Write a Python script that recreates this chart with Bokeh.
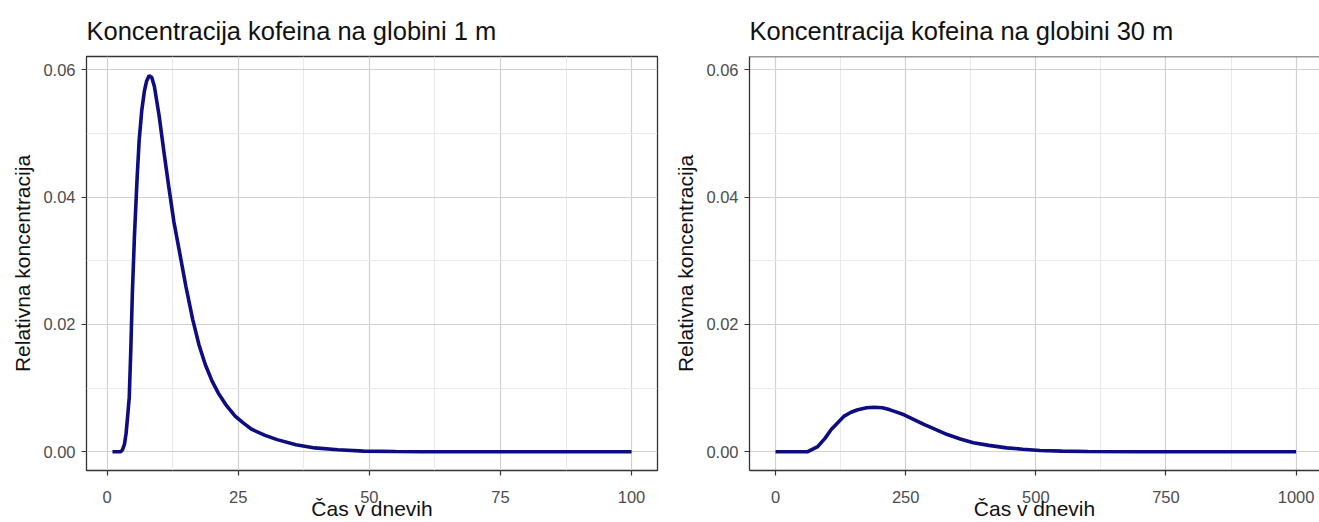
from bokeh.plotting import figure
from bokeh.models import Range1d, FixedTicker, Span, NumeralTickFormatter
from bokeh.layouts import row
from bokeh.embed import file_html
from bokeh.resources import INLINE

# ---- data ----
t_1m = [1, 2, 2.6, 2.9, 3.3, 3.6, 3.9, 4.2, 4.5, 4.8, 5.2, 5.7, 6.1, 6.6, 7.1, 7.5,
        8.0, 8.5, 9.0, 9.9, 10.8, 11.8, 12.7, 13.7, 15.0, 16.3, 17.5, 18.7, 20, 21.2,
        22.8, 24.4, 26, 27.6, 30, 32.4, 36, 39.6, 44, 48.9, 55, 60, 70, 80, 90, 100]
c_1m = [0, 0, 0, 0.0003, 0.0012, 0.0029, 0.0056, 0.0085, 0.0160, 0.0250, 0.0340,
        0.0430, 0.0490, 0.0537, 0.0567, 0.0582, 0.0591, 0.0588, 0.0574, 0.0528,
        0.0472, 0.0413, 0.0362, 0.0318, 0.0260, 0.0208, 0.0168, 0.0137, 0.0111,
        0.0092, 0.0072, 0.0056, 0.0045, 0.0035, 0.0026, 0.0019, 0.0011, 0.0006,
        0.0003, 0.0001, 0.00003, 0, 0, 0, 0, 0]

t_30m = [0, 30, 62, 81, 95, 107, 120, 132, 145, 158, 175, 190, 205, 215, 230, 247,
         265, 285, 307, 330, 355, 380, 410, 444, 475, 508, 550, 600, 700, 800, 900, 1000]
c_30m = [0, 0, 0, 0.0008, 0.0021, 0.0035, 0.0046, 0.0056, 0.0062, 0.0066, 0.0069,
         0.0070, 0.0069, 0.0067, 0.0063, 0.0058, 0.0051, 0.0043, 0.0035, 0.0027,
         0.0020, 0.0014, 0.0010, 0.0006, 0.0004, 0.0002, 0.0001, 0.00003, 0, 0, 0, 0]

x_ticks_1m = [0, 25, 50, 75, 100]
x_minor_1m = [12.5, 37.5, 62.5, 87.5]
x_ticks_30m = [0, 250, 500, 750, 1000]
x_minor_30m = [125, 375, 625, 875]
y_ticks = [0.0, 0.02, 0.04, 0.06]
y_minor = [0.01, 0.03, 0.05]

title_1m = "Koncentracija kofeina na globini 1 m"
title_30m = "Koncentracija kofeina na globini 30 m"
x_title = "Čas v dnevih"
y_title = "Relativna koncentracija"

FONT = "Liberation Sans"
Y_START, Y_END = -0.00295, 0.0621
H = 522


def make(t, c, title, xr, xt, xm, width, bl, br, outline):
    p = figure(width=width, height=H, output_backend="svg", toolbar_location=None,
               x_range=Range1d(*xr), y_range=Range1d(Y_START, Y_END),
               min_border_left=bl, min_border_right=br, min_border_top=56,
               min_border_bottom=H - 470, background_fill_color="white",
               border_fill_color="white")
    p.title.text = title
    p.title.text_font = FONT
    p.title.text_font_size = "25.5px"
    p.title.text_font_style = "normal"
    p.title.text_color = "#111111"
    p.title.align = "left"
    p.title.vertical_align = "top"
    p.title.offset = 0
    p.title.standoff = 20

    p.xaxis.ticker = FixedTicker(ticks=xt, minor_ticks=xm)
    p.yaxis.ticker = FixedTicker(ticks=y_ticks, minor_ticks=y_minor)
    p.yaxis.formatter = NumeralTickFormatter(format="0.00")
    for ax in (p.xaxis, p.yaxis):
        ax.major_label_text_font = FONT
        ax.major_label_text_font_size = "16.5px"
        ax.major_label_text_color = "#4d4d4d"
        ax.major_tick_line_color = "#333333"
        ax.major_tick_line_width = 1.2
        ax.major_tick_out = 5
        ax.major_tick_in = 0
        ax.minor_tick_out = 0
        ax.minor_tick_in = 0
        ax.axis_line_color = None if outline else "#333333"
        ax.axis_line_width = 1.3
        ax.axis_label_text_font = FONT
        ax.axis_label_text_font_size = "21px"
        ax.axis_label_text_font_style = "normal"
        ax.axis_label_text_color = "#111111"
    p.xaxis.major_label_standoff = 15
    p.yaxis.major_label_standoff = 6
    p.yaxis.axis_label = y_title
    p.yaxis.axis_label_standoff = 6
    p.xaxis.axis_label = x_title
    p.xaxis.axis_label_standoff = -9

    for g in (p.xgrid, p.ygrid):
        g.grid_line_color = "#d0d0d0"
        g.grid_line_width = 1.2
        g.minor_grid_line_color = "#e8e8e8"
        g.minor_grid_line_width = 0.9

    if outline:
        p.outline_line_color = "#333333"
        p.outline_line_width = 1.3
    else:
        p.outline_line_color = None
        p.add_layout(Span(location=Y_END, dimension="width",
                          line_color="#333333", line_width=1.3))

    p.line(t, c, line_color="#0d0d80", line_width=3.6)
    return p


p1 = make(t_1m, c_1m, title_1m, (-3.95, 104.95), x_ticks_1m, x_minor_1m, 660, 86, 3, True)
p2 = make(t_30m, c_30m, title_30m, (-50, 1045), x_ticks_30m, x_minor_30m, 659, 89, 0, False)

layout = row(p1, p2)
open("out.html", "w").write(file_html(layout, INLINE))
